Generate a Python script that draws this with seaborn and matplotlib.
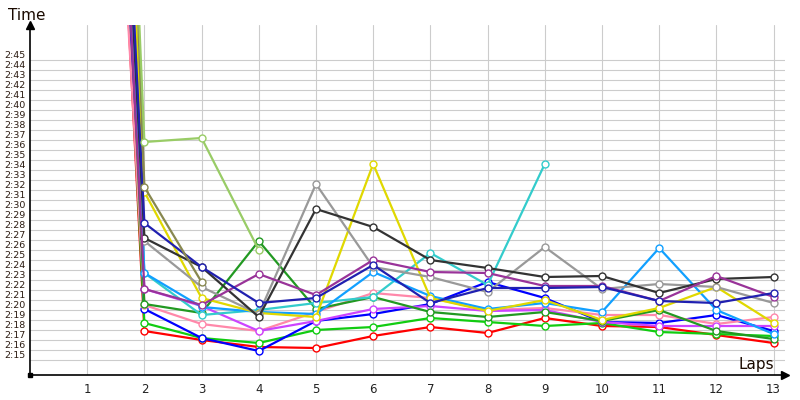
import numpy as np
import pandas as pd
import matplotlib
matplotlib.use("Agg")
import matplotlib.pyplot as plt
import matplotlib.transforms as mtransforms
import seaborn as sns

# ---- data (lap times in seconds) ----
laps = list(range(1, 14))
drivers = ["A", "B", "C", "D", "E", "F", "G", "H", "I", "J", "K", "L", "M", "N", "O"]
colors = ["#ff0000", "#11cc11", "#0000ff", "#ff88aa", "#cc44ff", "#229922", "#33cccc",
          "#11a0ff", "#e0d800", "#999999", "#333333", "#993399", "#2020b0", "#888850",
          "#99cc66"]

t_A = [250, 137.9, 137.0, 136.3, 136.2, 137.4, 138.3, 137.7, 139.2, 138.4, 138.3, 137.5, 136.7]
t_B = [252, 138.7, 137.2, 136.7, 138.0, 138.3, 139.2, 138.8, 138.4, 138.7, 137.8, 137.6, 137.4]
t_C = [256, 140.1, 137.2, 135.9, 138.9, 139.6, 140.6, 142.8, 141.2, 138.8, 138.7, 139.5, 137.9]
t_D = [240, 140.5, 138.6, 137.9, 139.8, 141.7, 141.2, 140.0, 140.2, 139.5, 139.5, 138.6, 139.3]
t_E = [258, 142.1, 140.4, 137.9, 138.9, 140.1, 140.4, 139.9, 140.0, 138.8, 138.4, 138.4, 138.4]
t_F = [263, 140.6, 139.7, 146.9, 140.1, 141.3, 139.8, 139.3, 139.8, 138.9, 140.0, 137.9, 137.1]
t_G = [261, 143.7, 139.5, 140.0, 140.7, 141.3, 145.7, 142.5, 154.6]
t_H = [272, 143.7, 140.3, 139.8, 139.6, 143.8, 141.4, 140.1, 140.7, 139.8, 146.2, 140.0, 137.6]
t_I = [270, 151.8, 141.2, 139.7, 139.3, 154.6, 141.2, 139.9, 141.0, 139.0, 140.2, 142.3, 138.7]
t_J = [270, 146.9, 142.3, 139.6, 152.6, 144.3, 143.3, 141.8, 146.3, 142.1, 142.6, 142.3, 140.7]
t_K = [257, 147.2, 144.3, 139.3, 150.1, 148.3, 145.0, 144.2, 143.3, 143.4, 141.7, 143.1, 143.3]
t_L = [255, 142.1, 140.5, 143.6, 141.5, 145.0, 143.8, 143.7, 142.4, 142.4, 140.9, 143.4, 141.3]
t_M = [261, 148.7, 144.3, 140.7, 141.2, 144.5, 140.7, 142.2, 142.2, 142.3, 140.9, 140.7, 141.7]
t_N = [306, 152.3, 142.8]
t_O = [290, 156.8, 157.2, 146.0]

ytick_vals = list(range(135, 166))
ytick_labels = [f"2:{s - 120:02d}" for s in ytick_vals]

series = [t_A, t_B, t_C, t_D, t_E, t_F, t_G, t_H, t_I, t_J, t_K, t_L, t_M, t_N, t_O]
rows = []
for d, ts in zip(drivers, series):
    for lap, t in zip(laps, ts):
        rows.append({"driver": d, "lap": lap, "time": t})
df = pd.DataFrame(rows)

sns.set_style("white")
plt.rcParams["font.family"] = ["DejaVu Sans"]

fig = plt.figure(figsize=(8, 4), dpi=100)
ax = fig.add_axes([30 / 800, 25 / 400, 755 / 800, 350 / 400])

sns.lineplot(data=df, x="lap", y="time", hue="driver", palette=colors,
             hue_order=drivers, marker="o", markersize=5, markerfacecolor="white",
             markeredgewidth=1.0, linewidth=1.6, sort=False, estimator=None,
             legend=False, ax=ax)
for ln in ax.get_lines():
    ln.set_markeredgecolor(ln.get_color())

ax.set_xlim(0, 13.2)
ax.set_ylim(133.5, 168.5)
ax.set_xticks(laps)
ax.set_xticklabels([str(l) for l in laps], fontsize=8.5, color="#222222")
ax.set_yticks(ytick_vals)
ax.set_yticklabels(ytick_labels, fontsize=6.8, color="#2a1a10")
ax.tick_params(axis="both", length=0)
ax.tick_params(axis="y", pad=3)
ax.tick_params(axis="x", pad=6)
ax.grid(True, color="#cccccc", linewidth=0.8)
ax.set_axisbelow(True)
ax.set_xlabel("")
ax.set_ylabel("")

offset = mtransforms.ScaledTranslation(0, 5 / 100, fig.dpi_scale_trans)
for lab in ax.get_yticklabels():
    lab.set_transform(lab.get_transform() + offset)

for s in ["top", "right"]:
    ax.spines[s].set_visible(False)
for s in ["left", "bottom"]:
    ax.spines[s].set_color("black")
    ax.spines[s].set_linewidth(1.2)

ax.plot(0, 1, marker="^", color="black", markersize=6, transform=ax.transAxes, clip_on=False)
ax.plot(1, 0, marker=">", color="black", markersize=6, transform=ax.transAxes, clip_on=False)
ax.plot(0, 0, marker="s", color="black", markersize=3, transform=ax.transAxes, clip_on=False)

fig.text(8 / 800, 1 - 15 / 400, "Time", fontsize=11, va="center", ha="left", color="#1a0a00")
fig.text(774 / 800, 1 - 364 / 400, "Laps", fontsize=11, va="center", ha="right", color="#1a0a00")

fig.savefig("out.png", dpi=100)
